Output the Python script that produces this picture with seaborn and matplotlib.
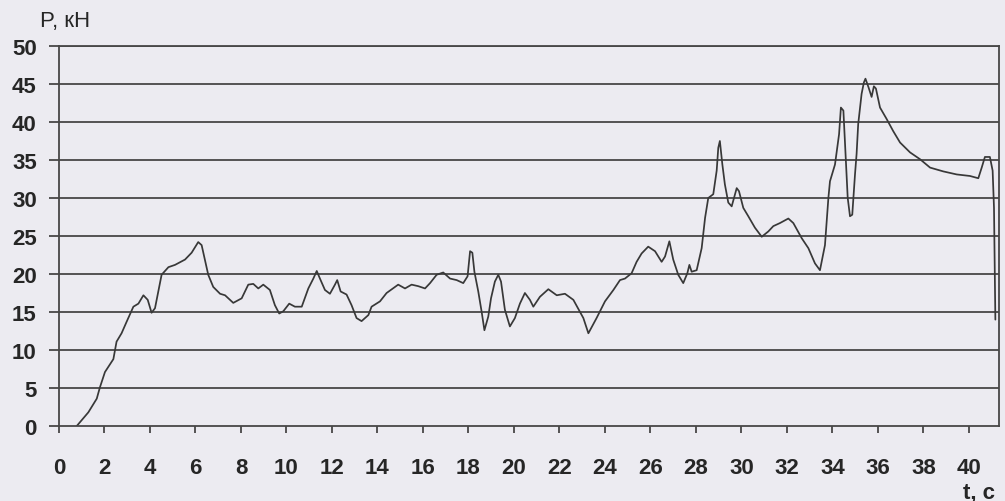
import matplotlib
matplotlib.use("Agg")
import matplotlib.pyplot as plt
import seaborn as sns
import pandas as pd

# Time, s
time_s = [0.78, 1.29, 1.66, 1.80, 2.02, 2.39, 2.53, 2.75, 2.97, 3.27, 3.49, 3.71, 3.90,
          4.07, 4.22, 4.51, 4.81, 5.10, 5.54, 5.83, 6.12, 6.27, 6.56, 6.78, 7.08, 7.30,
          7.66, 8.03, 8.32, 8.54, 8.76, 8.98, 9.27, 9.49, 9.68, 9.86, 10.12, 10.37, 10.67,
          10.96, 11.18, 11.33, 11.47, 11.69, 11.91, 12.13, 12.23, 12.38, 12.64, 12.86,
          13.08, 13.30, 13.60, 13.74, 14.11, 14.40, 14.91, 15.21, 15.50, 15.79, 16.09,
          16.31, 16.60, 16.89, 17.19, 17.48, 17.77, 17.96, 18.07, 18.17, 18.26, 18.43,
          18.58, 18.70, 18.87, 18.99, 19.16, 19.31, 19.43, 19.60, 19.82, 20.04, 20.26,
          20.48, 20.70, 20.85, 21.14, 21.51, 21.88, 22.24, 22.61, 22.90, 23.05, 23.27,
          23.63, 24.00, 24.37, 24.66, 24.88, 25.17, 25.39, 25.61, 25.90, 26.20, 26.49,
          26.64, 26.83, 27.00, 27.22, 27.44, 27.62, 27.71, 27.81, 28.03, 28.25, 28.40,
          28.54, 28.76, 28.91, 28.98, 29.05, 29.16, 29.27, 29.42, 29.57, 29.79, 29.89,
          30.08, 30.30, 30.59, 30.89, 31.18, 31.40, 31.69, 32.06, 32.28, 32.65, 32.94,
          33.23, 33.45, 33.67, 33.82, 33.89, 34.11, 34.29, 34.37, 34.48, 34.58, 34.67,
          34.77, 34.87, 34.99, 35.06, 35.13, 35.28, 35.38, 35.45, 35.58, 35.72, 35.82,
          35.91, 36.09, 36.38, 36.67, 36.97, 37.41, 37.85, 38.29, 38.87, 39.46, 40.04,
          40.41, 40.56, 40.70, 40.92, 41.04, 41.10, 41.16]

# Force, kN
force_kn = [0.0, 1.8, 3.6, 5.1, 7.1, 8.8, 11.1, 12.2, 13.7, 15.7, 16.1, 17.2, 16.6,
            14.9, 15.5, 19.9, 20.9, 21.2, 21.9, 22.8, 24.2, 23.8, 19.9, 18.3, 17.4, 17.2,
            16.2, 16.8, 18.6, 18.7, 18.1, 18.6, 17.9, 15.9, 14.8, 15.1, 16.1, 15.7, 15.7,
            18.1, 19.4, 20.4, 19.4, 17.9, 17.4, 18.6, 19.2, 17.7, 17.3, 15.9,
            14.2, 13.8, 14.6, 15.7, 16.4, 17.5, 18.6, 18.1, 18.6, 18.4, 18.1,
            18.8, 19.9, 20.2, 19.4, 19.2, 18.8, 19.7, 23.0, 22.8, 20.3, 17.7,
            15.0, 12.6, 14.4, 16.8, 19.0, 19.9, 19.0, 15.3, 13.1, 14.2, 16.1,
            17.5, 16.6, 15.7, 17.0, 18.0, 17.2, 17.4, 16.6, 15.0, 14.2, 12.2,
            14.2, 16.4, 17.9, 19.2, 19.4, 20.1, 21.6, 22.7, 23.6, 23.0, 21.6,
            22.3, 24.3, 21.9, 19.9, 18.8, 20.1, 21.2, 20.3, 20.5, 23.4, 27.4,
            30.0, 30.5, 33.6, 36.6, 37.5, 34.4, 31.8, 29.4, 28.9, 31.3, 30.9,
            28.7, 27.6, 26.1, 24.9, 25.6, 26.3, 26.7, 27.3, 26.7, 24.7, 23.4,
            21.4, 20.5, 23.8, 30.0, 32.2, 34.4, 38.4, 41.9, 41.5, 35.3, 30.0,
            27.6, 27.8, 33.1, 35.8, 39.7, 43.7, 45.2, 45.7, 44.6, 43.3, 44.7,
            44.4, 41.9, 40.4, 38.8, 37.3, 36.0, 35.1, 34.0, 33.5, 33.1, 32.9,
            32.6, 34.0, 35.4, 35.4, 33.6, 28.7, 14.0]

x_ticks = list(range(0, 41, 2))
y_ticks = list(range(0, 51, 5))

paper = "#ecebf1"
ink = "#474747"
text_ink = "#262626"

sns.set_theme(style="white")
plt.rcParams["font.family"] = ["Liberation Sans", "DejaVu Sans"]

fig = plt.figure(figsize=(10.05, 5.02), dpi=100, facecolor=paper)
ax = fig.add_axes([59 / 1005, 75 / 502, (999 - 59) / 1005, (427 - 47) / 502])
ax.set_facecolor(paper)

df = pd.DataFrame({"t": time_s, "P": force_kn})
sns.lineplot(data=df, x="t", y="P", ax=ax, color="#383838", linewidth=1.25,
             sort=False, estimator=None)

ax.set_xlim(0, 41.32)
ax.set_ylim(0, 50)
ax.set_xticks(x_ticks)
ax.set_yticks(y_ticks)
ax.set_xlabel("")
ax.set_ylabel("")

# horizontal rules at each y tick
for v in y_ticks[1:]:
    ax.axhline(v, color=ink, linewidth=1.3, zorder=1)

for side in ["left", "bottom", "right", "top"]:
    ax.spines[side].set_visible(True)
    ax.spines[side].set_color(ink)
    ax.spines[side].set_linewidth(1.3)

ax.tick_params(axis="y", left=True, labelleft=True, direction="out", length=7,
               width=1.3, color=ink, pad=9, labelsize=16, labelcolor=text_ink)
ax.tick_params(axis="x", bottom=True, labelbottom=True, direction="out", length=5,
               width=1.3, color=ink, pad=17, labelsize=16, labelcolor=text_ink)
for lbl in ax.get_xticklabels() + ax.get_yticklabels():
    lbl.set_fontweight("bold")

fig.text(40 / 1005, 1 - 21 / 502, "P, кН", fontsize=16, color=text_ink,
         ha="left", va="center")
fig.text(963 / 1005, 1 - 493 / 502, "t, c", fontsize=16, fontweight="bold",
         color=text_ink, ha="left", va="center")

fig.savefig("out.png", dpi=100, facecolor=paper)
